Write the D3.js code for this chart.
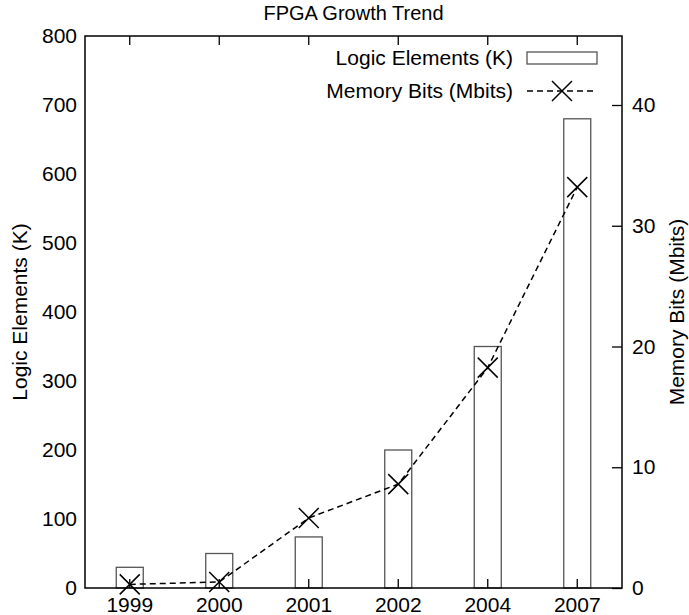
<!DOCTYPE html>
<html>
<head>
<meta charset="utf-8">
<script src="https://cdn.jsdelivr.net/npm/d3@7"></script>
<style>
  body { margin: 0; background: #fff; }
  text { font-family: "Liberation Sans", Arial, sans-serif; }
</style>
</head>
<body>
<div id="chart"></div>
<script>
let years = ["1999", "2000", "2001", "2002", "2004", "2007"];
let logicElements = [30, 50, 74, 200, 350, 680];
let memoryBits = [0.3, 0.5, 5.8, 8.6, 18.25, 33.2];
let leftTicks = [0, 100, 200, 300, 400, 500, 600, 700, 800];
let rightTicks = [0, 10, 20, 30, 40];

let width = 689, height = 615;
let margin = {top: 36, right: 67, bottom: 27, left: 85};
let w = width - margin.left - margin.right;
let h = height - margin.top - margin.bottom;
let fontSize = 21;

let svg = d3.select("#chart")
    .append("svg")
    .attr("width", width)
    .attr("height", height);

let g = svg.append("g")
    .attr("transform", "translate(" + margin.left + "," + margin.top + ")");

let x = d3.scaleBand()
    .domain(years)
    .range([0, w])
    .paddingOuter(0);

let yLeft = d3.scaleLinear()
    .domain([0, 800])
    .range([h, 0]);

// 40 on the right lines up with 700 on the left
let yRight = d3.scaleLinear()
    .domain([0, 40 * 800 / 700])
    .range([h, 0]);

let barWidth = 27;
let xMid = function (d) { return x(d) + x.bandwidth() / 2; };
let crossPath = "M-10,-10L10,10M-10,10L10,-10";

// bars
g.selectAll(".bar")
    .data(years)
    .enter()
    .append("rect")
    .attr("class", "bar")
    .attr("x", function (d) { return xMid(d) - barWidth / 2; })
    .attr("y", function (d, i) { return yLeft(logicElements[i]); })
    .attr("width", barWidth)
    .attr("height", function (d, i) { return h - yLeft(logicElements[i]); })
    .attr("fill", "none")
    .attr("stroke", "#555")
    .attr("stroke-width", 1.3);

// memory line
let line = d3.line()
    .x(function (d, i) { return xMid(years[i]); })
    .y(function (d) { return yRight(d); });

g.append("path")
    .datum(memoryBits)
    .attr("fill", "none")
    .attr("stroke", "#000")
    .attr("stroke-width", 1.5)
    .attr("stroke-dasharray", "6,4")
    .attr("d", line);

g.selectAll(".pt")
    .data(memoryBits)
    .enter()
    .append("path")
    .attr("class", "pt")
    .attr("transform", function (d, i) {
        return "translate(" + xMid(years[i]) + "," + yRight(d) + ")";
    })
    .attr("d", crossPath)
    .attr("fill", "none")
    .attr("stroke", "#000")
    .attr("stroke-width", 1.5);

// axes
let axisB = g.append("g")
    .attr("transform", "translate(0," + h + ")")
    .call(d3.axisBottom(x).tickSize(-9).tickPadding(9));

let axisT = g.append("g")
    .call(d3.axisTop(x).tickSize(-9).tickFormat(""));

let axisL = g.append("g")
    .call(d3.axisLeft(yLeft).tickValues(leftTicks).tickSize(0).tickPadding(8));

let axisR = g.append("g")
    .attr("transform", "translate(" + w + ",0)")
    .call(d3.axisRight(yRight).tickValues(rightTicks).tickSize(-10).tickPadding(10));

[axisB, axisT, axisL, axisR].forEach(function (a) {
    a.select(".domain").remove();
    a.selectAll("text")
        .attr("fill", "#000")
        .style("font-size", fontSize + "px")
        .style("font-family", '"Liberation Sans", Arial, sans-serif');
    a.selectAll("line").attr("stroke", "#000").attr("stroke-width", 1.3);
});

// frame
g.append("rect")
    .attr("width", w)
    .attr("height", h)
    .attr("fill", "none")
    .attr("stroke", "#000")
    .attr("stroke-width", 1.5);

// title and axis labels
svg.append("text")
    .attr("x", margin.left + w / 2)
    .attr("y", 20)
    .attr("text-anchor", "middle")
    .style("font-size", "20px")
    .text("FPGA Growth Trend");

svg.append("text")
    .attr("transform", "translate(27," + (margin.top + h / 2) + ") rotate(-90)")
    .attr("text-anchor", "middle")
    .style("font-size", fontSize + "px")
    .text("Logic Elements (K)");

svg.append("text")
    .attr("transform", "translate(684," + (margin.top + h / 2) + ") rotate(-90)")
    .attr("text-anchor", "middle")
    .style("font-size", fontSize + "px")
    .text("Memory Bits (Mbits)");

// legend
let legend = g.append("g")
    .attr("transform", "translate(" + (w - 109) + ",0)");

legend.append("text")
    .attr("x", 0)
    .attr("y", 22)
    .attr("dy", "0.35em")
    .attr("text-anchor", "end")
    .style("font-size", fontSize + "px")
    .text("Logic Elements (K)");

legend.append("rect")
    .attr("x", 14)
    .attr("y", 16)
    .attr("width", 70)
    .attr("height", 12)
    .attr("fill", "none")
    .attr("stroke", "#555")
    .attr("stroke-width", 1.3);

legend.append("text")
    .attr("x", 0)
    .attr("y", 55)
    .attr("dy", "0.35em")
    .attr("text-anchor", "end")
    .style("font-size", fontSize + "px")
    .text("Memory Bits (Mbits)");

legend.append("line")
    .attr("x1", 14)
    .attr("x2", 84)
    .attr("y1", 55)
    .attr("y2", 55)
    .attr("stroke", "#000")
    .attr("stroke-width", 1.5)
    .attr("stroke-dasharray", "6,4");

legend.append("path")
    .attr("transform", "translate(49,55)")
    .attr("d", crossPath)
    .attr("fill", "none")
    .attr("stroke", "#000")
    .attr("stroke-width", 1.5);
</script>
</body>
</html>
